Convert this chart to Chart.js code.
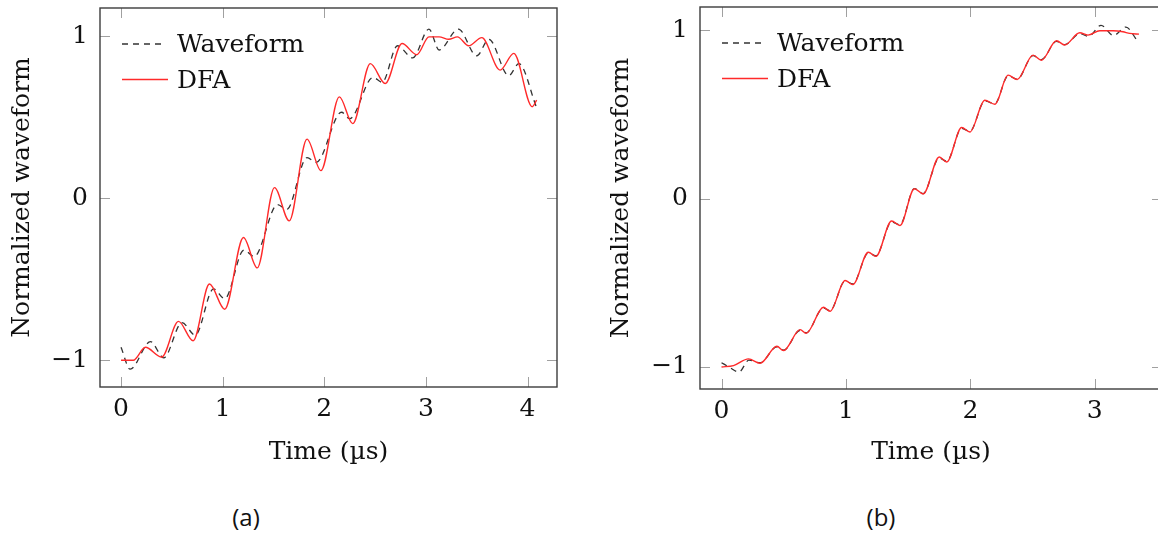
<!DOCTYPE html>
<html>
<head>
<meta charset="utf-8">
<script src="https://cdn.jsdelivr.net/npm/chart.js@4/dist/chart.umd.min.js"></script>
<style>
  html, body { margin: 0; padding: 0; background: #fff; overflow: hidden; width: 1158px; height: 534px; }
  .wrap { position: absolute; top: 0; height: 480px; }
  .cap { position: absolute; top: 500px; font-family: "Open Sans", "Noto Sans", sans-serif; font-size: 24px; color: #111; width: 60px; text-align: center; }
</style>
</head>
<body>
<div class="wrap" style="left:0px;width:580px;"><canvas id="ca" width="580" height="480"></canvas></div>
<div class="wrap" style="left:590px;width:580px;"><canvas id="cb" width="580" height="480"></canvas></div>
<div class="cap" style="left:216px;">(a)</div>
<div class="cap" style="left:851px;">(b)</div>
<script>
// ---------- data ----------
// (a) waveform (dashed black)
const aWaveX = [0, 0.09, 0.29, 0.42, 0.6, 0.73, 0.91, 1.02, 1.21, 1.31, 1.54, 1.63, 1.83, 1.92, 2.17, 2.25, 2.48, 2.57, 2.72, 2.87, 3.03, 3.13, 3.32, 3.50, 3.62, 3.815, 3.915, 4.086];
const aWaveY = [-0.92, -1.055, -0.885, -0.985, -0.768, -0.845, -0.56, -0.62, -0.32, -0.36, -0.04, -0.07, 0.25, 0.22, 0.53, 0.49, 0.745, 0.715, 0.94, 0.865, 1.043, 0.914, 1.043, 0.878, 0.98, 0.755, 0.83, 0.564];
// (a) DFA (red)
const aDfaX = [0, 0.12, 0.24, 0.40, 0.565, 0.71, 0.87, 1.02, 1.205, 1.34, 1.51, 1.655, 1.83, 1.967, 2.148, 2.28, 2.453, 2.60, 2.765, 2.91, 3.03, 3.13, 3.225, 3.31, 3.42, 3.55, 3.73, 3.865, 4.046, 4.09];
const aDfaY = [-1.0, -1.0, -0.92, -0.98, -0.76, -0.88, -0.53, -0.685, -0.243, -0.43, 0.065, -0.14, 0.364, 0.17, 0.625, 0.46, 0.83, 0.707, 0.954, 0.885, 0.995, 0.995, 0.98, 0.995, 0.94, 0.99, 0.79, 0.893, 0.564, 0.605];
// (b) waveform (dashed black)
const bWaveX = [0, 0.06, 0.14, 0.22, 0.31, 0.445, 0.5, 0.632, 0.68, 0.819, 0.872, 0.993, 1.055, 1.18, 1.24, 1.367, 1.434, 1.55, 1.62, 1.75, 1.81, 1.93, 1.996, 2.116, 2.197, 2.303, 2.376, 2.504, 2.571, 2.692, 2.758, 2.879, 2.95, 3.05, 3.15, 3.25, 3.34];
const bWaveY = [-0.975, -1.0, -1.03, -0.96, -0.975, -0.88, -0.9, -0.782, -0.797, -0.65, -0.666, -0.49, -0.506, -0.322, -0.34, -0.138, -0.155, 0.06, 0.03, 0.242, 0.222, 0.418, 0.4, 0.58, 0.565, 0.73, 0.71, 0.85, 0.826, 0.935, 0.915, 0.98, 0.965, 1.03, 0.97, 1.02, 0.94];
// (b) DFA (red)
const bDfaX = [0, 0.096, 0.217, 0.31, 0.445, 0.498, 0.632, 0.68, 0.819, 0.872, 0.993, 1.055, 1.18, 1.24, 1.367, 1.434, 1.55, 1.62, 1.75, 1.81, 1.93, 1.996, 2.116, 2.197, 2.303, 2.376, 2.504, 2.571, 2.692, 2.758, 2.879, 2.945, 3.04, 3.146, 3.226, 3.28, 3.355];
const bDfaY = [-1.0, -0.992, -0.952, -0.978, -0.877, -0.903, -0.778, -0.80, -0.645, -0.669, -0.486, -0.51, -0.318, -0.343, -0.133, -0.159, 0.059, 0.028, 0.248, 0.218, 0.423, 0.396, 0.585, 0.561, 0.734, 0.708, 0.853, 0.823, 0.938, 0.913, 0.986, 0.972, 0.998, 0.998, 0.992, 0.982, 0.978];

const aXTicks = [0, 1, 2, 3, 4];
const bXTicks = [0, 1, 2, 3];
const yTicks = [-1, 0, 1];
const seriesNames = ['Waveform', 'DFA'];
const xTitle = 'Time (µs)';
const yTitle = 'Normalized waveform';

// ---------- helpers ----------
const FONT = 'DejaVu Serif';
const pts = (xs, ys) => xs.map((x, i) => ({x: x, y: ys[i]}));
const fmt = v => (v < 0 ? '\u2212' + Math.abs(v) : String(v));

const framePlugin = {
  id: 'frame',
  afterDraw(chart, args, opts) {
    const ctx = chart.ctx, a = chart.chartArea;
    const xs = chart.scales.x, ys = chart.scales.y;
    ctx.save();
    // inner tick marks
    ctx.strokeStyle = '#a0a0a0';
    ctx.lineWidth = 1;
    const L = 10;
    ctx.beginPath();
    opts.xTicks.forEach(v => {
      const p = Math.round(xs.getPixelForValue(v)) + 0.5;
      ctx.moveTo(p, a.bottom); ctx.lineTo(p, a.bottom - L);
      ctx.moveTo(p, a.top); ctx.lineTo(p, a.top + L);
    });
    opts.yTicks.forEach(v => {
      const p = Math.round(ys.getPixelForValue(v)) + 0.5;
      ctx.moveTo(a.left, p); ctx.lineTo(a.left + L, p);
      ctx.moveTo(a.right, p); ctx.lineTo(a.right - L, p);
    });
    ctx.stroke();
    // box
    ctx.strokeStyle = '#3c3c3c';
    ctx.lineWidth = 1.4;
    ctx.strokeRect(a.left, a.top, a.right - a.left, a.bottom - a.top);
    // legend
    const lx0 = a.left + 22, lx1 = a.left + 66, tx = a.left + 77;
    ctx.font = '25px "' + FONT + '"';
    ctx.fillStyle = '#111';
    ctx.textBaseline = 'alphabetic';
    ctx.textAlign = 'left';
    ctx.strokeStyle = '#333';
    ctx.lineWidth = 1.3;
    ctx.setLineDash([6, 5]);
    ctx.beginPath(); ctx.moveTo(lx0, a.top + 36); ctx.lineTo(lx1, a.top + 36); ctx.stroke();
    ctx.setLineDash([]);
    ctx.fillText(seriesNames[0], tx, a.top + 44);
    ctx.strokeStyle = '#ff2a2a';
    ctx.beginPath(); ctx.moveTo(lx0, a.top + 71.5); ctx.lineTo(lx1 + 2, a.top + 71.5); ctx.stroke();
    ctx.fillText(seriesNames[1], tx, a.top + 79.5);
    ctx.restore();
  }
};

function makeChart(id, cfg) {
  return new Chart(document.getElementById(id), {
    type: 'line',
    data: {
      datasets: [
        { label: seriesNames[0], data: pts(cfg.wx, cfg.wy), borderColor: '#333', borderWidth: 1.3,
          borderDash: [6, 5], pointRadius: 0, cubicInterpolationMode: 'monotone', fill: false, order: 1 },
        { label: seriesNames[1], data: pts(cfg.dx, cfg.dy), borderColor: '#ff2a2a', borderWidth: 1.4,
          pointRadius: 0, cubicInterpolationMode: 'monotone', fill: false, order: 0 }
      ]
    },
    options: {
      responsive: false,
      animation: false,
      events: [],
      layout: { padding: cfg.pad },
      plugins: { legend: { display: false }, tooltip: { enabled: false },
                 frame: { xTicks: cfg.xTicks, yTicks: yTicks } },
      scales: {
        x: {
          type: 'linear', min: cfg.xMin, max: cfg.xMax,
          afterBuildTicks: s => { s.ticks = cfg.xTicks.map(v => ({value: v})); },
          afterFit: s => { s.height = cfg.xH; s.paddingLeft = 0; s.paddingRight = 0; },
          grid: { display: false, drawTicks: false },
          border: { display: false },
          ticks: { padding: 7, color: '#111', font: { family: FONT, size: 25 }, callback: v => fmt(v), maxRotation: 0 },
          title: { display: true, text: xTitle, color: '#111', font: { family: FONT, size: 25 }, padding: { top: 0, bottom: 13 } }
        },
        y: {
          type: 'linear', min: cfg.yMin, max: cfg.yMax,
          afterBuildTicks: s => { s.ticks = yTicks.map(v => ({value: v})); },
          afterFit: s => { s.width = cfg.yW; s.paddingTop = 0; s.paddingBottom = 0; },
          grid: { display: false, drawTicks: false },
          border: { display: false },
          ticks: { padding: 12, color: '#111', font: { family: FONT, size: 25 }, callback: v => fmt(v) },
          title: { display: true, text: yTitle, color: '#111', font: { family: FONT, size: 25 }, padding: { top: cfg.yTitlePad, bottom: 0 } }
        }
      }
    },
    plugins: [framePlugin]
  });
}

makeChart('ca', {
  wx: aWaveX, wy: aWaveY, dx: aDfaX, dy: aDfaY, xTicks: aXTicks,
  xMin: -0.207, xMax: 4.29, yMin: -1.165, yMax: 1.173,
  pad: { top: 8, right: 23, left: 0, bottom: 0 }, xH: 93, yW: 100, yTitlePad: 7
});
makeChart('cb', {
  wx: bWaveX, wy: bWaveY, dx: bDfaX, dy: bDfaY, xTicks: bXTicks,
  xMin: -0.173, xMax: 3.54, yMin: -1.131, yMax: 1.139,
  pad: { top: 7, right: 8, left: 0, bottom: 0 }, xH: 91, yW: 110, yTitlePad: 16
});
</script>
</body>
</html>
